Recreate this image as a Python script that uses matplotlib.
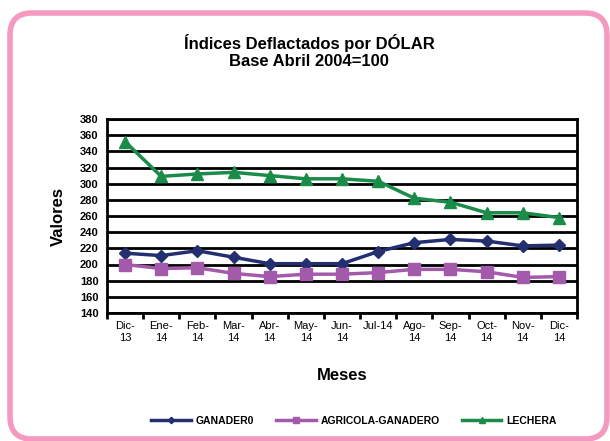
import matplotlib
matplotlib.use("Agg")
import matplotlib.pyplot as plt
from matplotlib.patches import FancyBboxPatch
from matplotlib.transforms import IdentityTransform

plt.rcParams['font.family'] = ['Liberation Sans', 'DejaVu Sans']

meses = ['Dic-\n13', 'Ene-\n14', 'Feb-\n14', 'Mar-\n14', 'Abr-\n14', 'May-\n14', 'Jun-\n14',
         'Jul-14', 'Ago-\n14', 'Sep-\n14', 'Oct-\n14', 'Nov-\n14', 'Dic-\n14']
ganadero = [214, 211, 217, 209, 201, 201, 201, 216, 227, 231, 229, 223, 224]
agricola = [200, 195, 196, 189, 185, 188, 188, 190, 194, 194, 191, 184, 185]
lechera = [352, 309, 312, 314, 310, 306, 306, 303, 282, 277, 264, 264, 258]

c_gan = '#232F6F'
c_agr = '#A35AAA'
c_lec = '#1A8B48'

fig = plt.figure(figsize=(6.1, 4.41), dpi=100)
ax = fig.add_axes([107 / 610, 1 - 313 / 441, 470 / 610, 194 / 441])

x = list(range(len(meses)))
ax.plot(x, ganadero, color=c_gan, lw=2.5, marker='D', ms=6.5, label='GANADER0')
ax.plot(x, agricola, color=c_agr, lw=2.5, marker='s', ms=8.5, label='AGRICOLA-GANADERO')
ax.plot(x, lechera, color=c_lec, lw=2.5, marker='^', ms=8.5, label='LECHERA')

ax.set_xlim(-0.5, len(meses) - 0.5)
ax.set_ylim(140, 380)
ax.set_yticks(range(140, 381, 20))
ax.grid(axis='y', color='black', lw=2)
ax.set_axisbelow(True)
for s in ax.spines.values():
    s.set_linewidth(2)

ax.set_xticks(x)
ax.set_xticklabels(meses, fontsize=8)
ax.set_xticks([i - 0.5 for i in range(len(meses) + 1)], minor=True)
ax.tick_params(axis='x', which='major', length=0, pad=6)
ax.tick_params(axis='x', which='minor', length=4, width=2, direction='out')
ax.tick_params(axis='y', length=0, pad=6, labelsize=8)
for t in ax.get_yticklabels():
    t.set_fontweight('bold')

ax.set_ylabel('Valores', fontsize=12, fontweight='bold', labelpad=10)
ax.set_xlabel('Meses', fontsize=12, fontweight='bold', labelpad=18)

fig.text(0.507, 1 - 43 / 441, 'Índices Deflactados por DÓLAR', ha='center', va='center',
         fontsize=12, fontweight='bold')
fig.text(0.507, 1 - 61 / 441, 'Base Abril 2004=100', ha='center', va='center',
         fontsize=12, fontweight='bold')

fig.legend(loc='center', bbox_to_anchor=(354 / 610, 1 - 421 / 441), ncol=3, frameon=False,
           prop={'weight': 'bold', 'size': 7.5}, markerscale=0.5,
           handlelength=3.8, handletextpad=0.5, columnspacing=2.1)

# marco rosado redondeado
marco = FancyBboxPatch((10, 2), 597, 426, boxstyle='round,pad=0,rounding_size=22',
                       transform=IdentityTransform(), fill=False, ec='#F49AC1', lw=4,
                       figure=fig)
fig.patches.append(marco)

fig.savefig('out.png', dpi=100)
